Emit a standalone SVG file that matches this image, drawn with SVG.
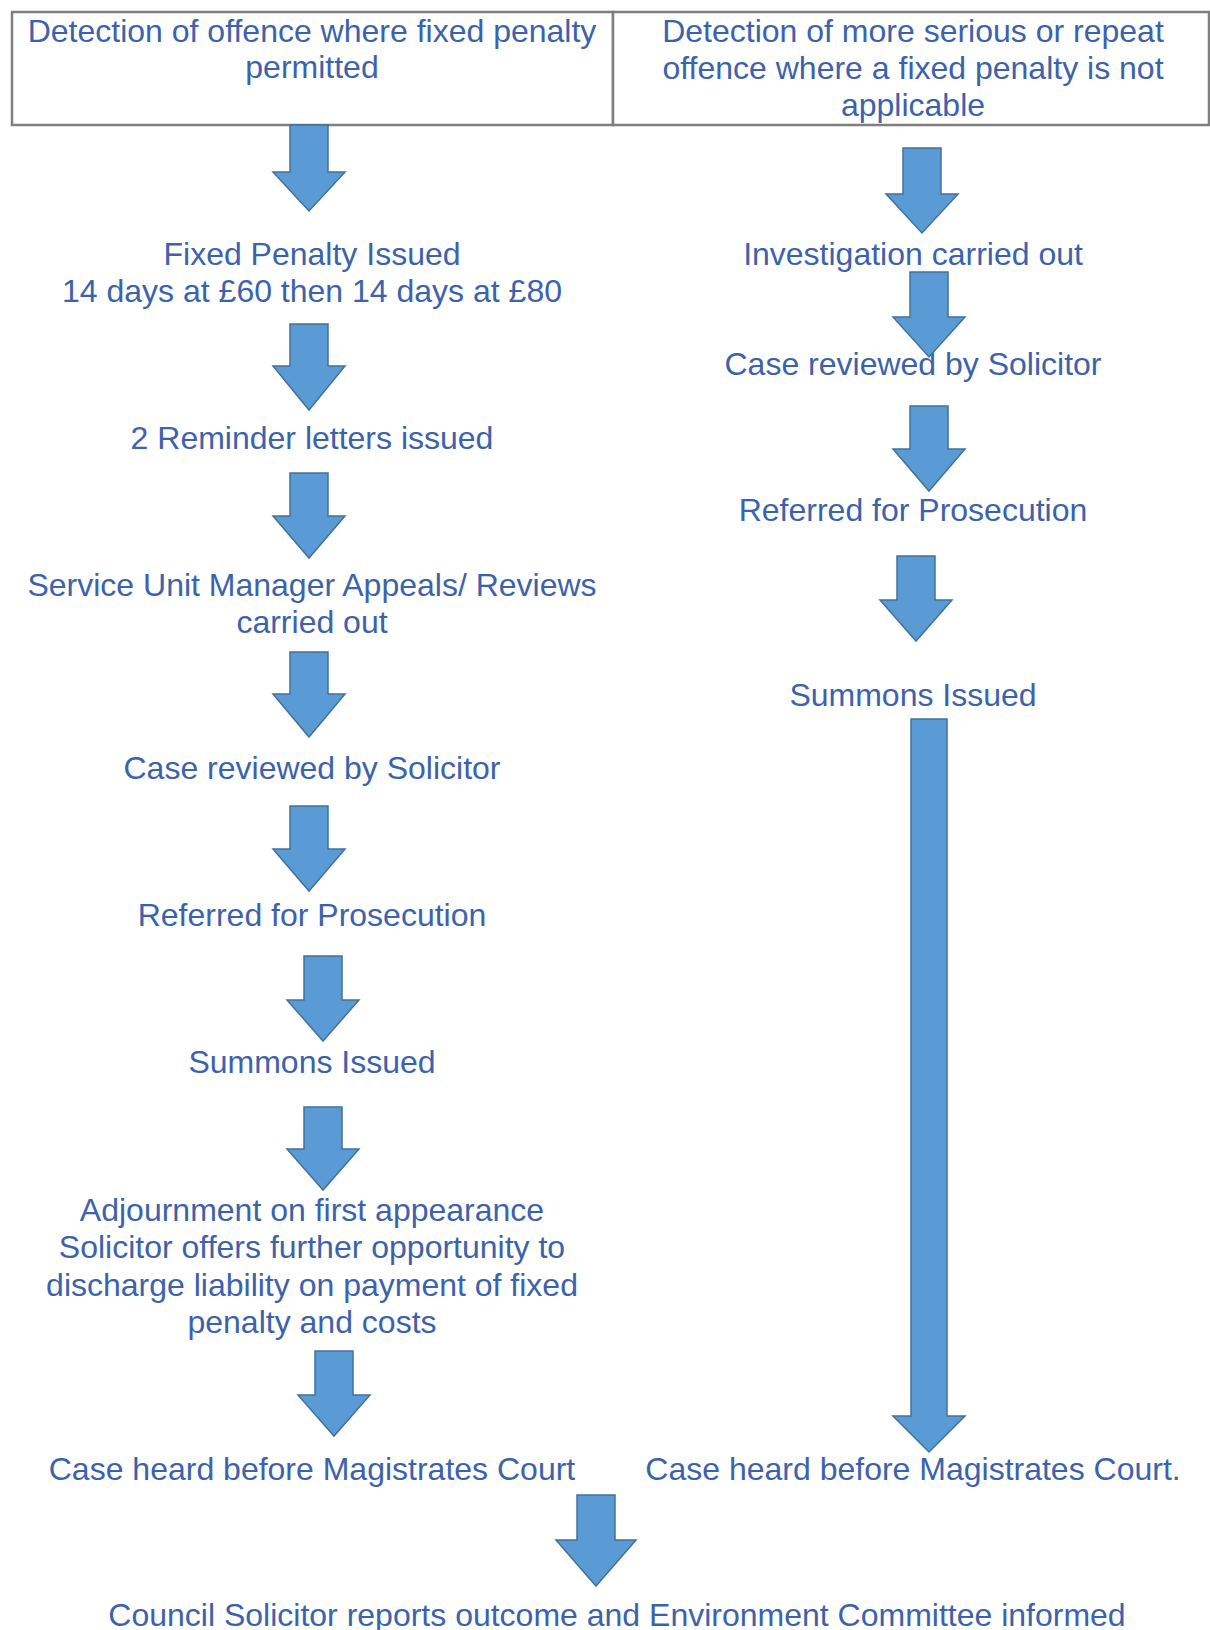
<svg xmlns="http://www.w3.org/2000/svg" width="1210" height="1630" viewBox="0 0 1210 1630">
<style>
.t{font-family:"Liberation Sans",Arial,sans-serif;font-size:32px;fill:#3D62AC;text-anchor:middle}
.box{fill:#fff;stroke:#7f7f7f;stroke-width:2.5}
.arr{fill:#5B9BD5;stroke:#41719C;stroke-width:1.5;stroke-linejoin:miter}
</style>
<rect width="1210" height="1630" fill="#fff"/>
<g id="n-header-left">
<rect class="box" x="12" y="12" width="601" height="113"/>
<text class="t" x="312" y="42">Detection of offence where fixed penalty</text>
<text class="t" x="312" y="78">permitted</text>
</g>
<g id="n-header-right">
<rect class="box" x="613" y="12" width="596" height="113"/>
<text class="t" x="913" y="42">Detection of more serious or repeat</text>
<text class="t" x="913" y="79">offence where a fixed penalty is not</text>
<text class="t" x="913" y="116">applicable</text>
</g>
<g id="n-fixed-penalty">
<text class="t" x="312" y="265">Fixed Penalty Issued</text>
<text class="t" x="312" y="302">14 days at £60 then 14 days at £80</text>
</g>
<g id="n-reminder">
<text class="t" x="312" y="449">2 Reminder letters issued</text>
</g>
<g id="n-appeals">
<text class="t" x="312" y="596">Service Unit Manager Appeals/ Reviews</text>
<text class="t" x="312" y="633">carried out</text>
</g>
<g id="n-reviewed-left">
<text class="t" x="312" y="779">Case reviewed by Solicitor</text>
</g>
<g id="n-referred-left">
<text class="t" x="312" y="926">Referred for Prosecution</text>
</g>
<g id="n-summons-left">
<text class="t" x="312" y="1073">Summons Issued</text>
</g>
<g id="n-adjournment">
<text class="t" x="312" y="1221">Adjournment on first appearance</text>
<text class="t" x="312" y="1258">Solicitor offers further opportunity to</text>
<text class="t" x="312" y="1296">discharge liability on payment of fixed</text>
<text class="t" x="312" y="1333">penalty and costs</text>
</g>
<g id="n-court-left">
<text class="t" x="312" y="1480">Case heard before Magistrates Court</text>
</g>
<g id="n-investigation">
<text class="t" x="913" y="265">Investigation carried out</text>
</g>
<g id="n-reviewed-right">
<text class="t" x="913" y="375">Case reviewed by Solicitor</text>
</g>
<g id="n-referred-right">
<text class="t" x="913" y="521">Referred for Prosecution</text>
</g>
<g id="n-summons-right">
<text class="t" x="913" y="706">Summons Issued</text>
</g>
<g id="n-court-right">
<text class="t" x="913" y="1480">Case heard before Magistrates Court.</text>
</g>
<g id="n-outcome">
<text class="t" x="617" y="1626">Council Solicitor reports outcome and Environment Committee informed</text>
</g>
<g id="connectors">
<path class="arr" d="M290,125H328V172H345L309,211L273,172H290Z"/>
<path class="arr" d="M290,324H328V366H345L309,410L273,366H290Z"/>
<path class="arr" d="M290,473H328V516H345L309,558L273,516H290Z"/>
<path class="arr" d="M290,652H328V694H345L309,737L273,694H290Z"/>
<path class="arr" d="M290,806H328V849H345L309,891L273,849H290Z"/>
<path class="arr" d="M304,956H342V1000H359L323,1041L287,1000H304Z"/>
<path class="arr" d="M304,1107H342V1149H359L323,1190L287,1149H304Z"/>
<path class="arr" d="M315,1351H353V1395H370L334,1436L298,1395H315Z"/>
<path class="arr" d="M577,1495H615V1540H636L596,1586L556,1540H577Z"/>
<path class="arr" d="M903,148H941V194H958L922,233L886,194H903Z"/>
<path class="arr" d="M910,272H948V317H965L929,357L893,317H910Z"/>
<path class="arr" d="M910,406H948V449H965L929,491L893,449H910Z"/>
<path class="arr" d="M897,556H935V600H952L916,641L880,600H897Z"/>
<path class="arr" d="M911,719H947V1416H965L929,1452L893,1416H911Z"/>
</g>
</svg>
